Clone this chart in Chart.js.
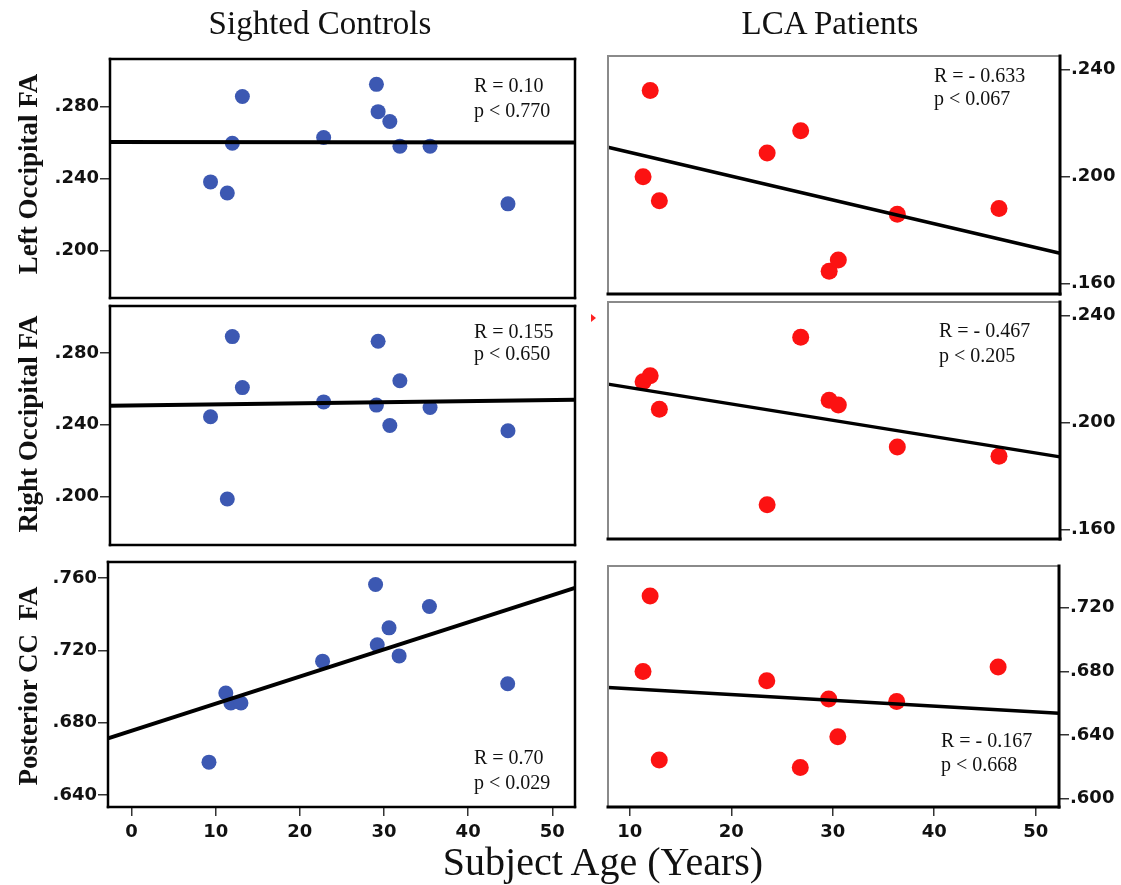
<!DOCTYPE html>
<html>
<head>
<meta charset="utf-8">
<script src="https://cdn.jsdelivr.net/npm/chart.js@4.4.1/dist/chart.umd.min.js"></script>
<style>
html,body{margin:0;padding:0;background:#fff;}
#wrap{position:relative;width:1121px;height:885px;overflow:hidden;background:#fff;}
.panel{position:absolute;}
.txt{position:absolute;font-family:"Liberation Serif","Times New Roman",serif;color:#111;white-space:nowrap;line-height:1;transform:translateY(-50%);}
.ctitle{position:absolute;font-family:"Liberation Serif","Times New Roman",serif;color:#111;white-space:nowrap;line-height:1;transform:translate(-50%,-50%);}
.ytitle{position:absolute;font-family:"Liberation Serif","Times New Roman",serif;font-weight:bold;font-size:27px;color:#111;white-space:nowrap;line-height:1;transform:translate(-50%,-50%) rotate(-90deg);}
.tri{position:absolute;width:0;height:0;border-top:4px solid transparent;border-bottom:4px solid transparent;border-left:5px solid #f22;}
</style>
</head>
<body>
<div id="wrap"></div>
<script>
// ---------------- DATA ----------------
const sightedAges      = [9.2, 11.2, 11.8, 13.0, 22.7, 29.0, 29.2, 30.6, 31.8, 35.4, 44.7];
const sightedLeftOcc   = [0.2381, 0.2319, 0.2596, 0.2856, 0.2628, 0.2924, 0.2772, 0.2717, 0.2580, 0.2580, 0.2259];
const sightedRightOcc  = [0.2445, 0.1985, 0.2893, 0.2608, 0.2528, 0.2510, 0.2867, 0.2396, 0.2646, 0.2497, 0.2367];
const sightedPostCC    = [0.6582, 0.6964, 0.6909, 0.6909, 0.7140, 0.7564, 0.7231, 0.7324, 0.7169, 0.7442, 0.7015];

const lcaAges          = [11.3, 12.0, 12.9, 23.5, 26.8, 29.6, 30.5, 36.3, 46.3];
const lcaLeftOcc       = [0.1999, 0.2321, 0.1909, 0.2088, 0.2171, 0.1646, 0.1688, 0.1859, 0.1880];
const lcaRightOcc      = [0.2152, 0.2174, 0.2049, 0.1692, 0.2318, 0.2083, 0.2065, 0.1908, 0.1873];
const lcaPostCC        = [0.6800, 0.7274, 0.6242, 0.6741, 0.6196, 0.6627, 0.6389, 0.6610, 0.6827];

// regression line end points (x at axis limits)
const sightedFitX      = [-2.8, 52.7];
const sightedLeftFit   = [0.2603, 0.2600];
const sightedRightFit  = [0.2506, 0.2540];
const sightedPostFit   = [0.6713, 0.7545];
const lcaFitX          = [7.85, 52.3];
const lcaLeftFit       = [0.2109, 0.1713];
const lcaRightFit      = [0.2143, 0.1871];
const lcaPostFit       = [0.6699, 0.6537];

// tick labels
const sightedAgeTicks  = [0, 10, 20, 30, 40, 50];
const lcaAgeTicks      = [10, 20, 30, 40, 50];
const sightedOccTicks  = [0.200, 0.240, 0.280];
const sightedCCTicks   = [0.640, 0.680, 0.720, 0.760];
const lcaOccTicks      = [0.160, 0.200, 0.240];
const lcaCCTicks       = [0.600, 0.640, 0.680, 0.720];

// statistics text
const statR = ["R = 0.10", "R = - 0.633", "R = 0.155", "R = - 0.467", "R = 0.70", "R = - 0.167"];
const statP = ["p < 0.770", "p < 0.067", "p < 0.650", "p < 0.205", "p < 0.029", "p < 0.668"];

const columnTitles = ["Sighted Controls", "LCA Patients"];
const rowTitles = ["Left Occipital FA", "Right Occipital FA", "Posterior CC\u00a0 FA"];
const xAxisTitle = "Subject Age (Years)";

// ---------------- LAYOUT ----------------
const W = 1121;
const PAD = 20, XH = 45;
const BLUE = "rgb(60,88,178)";
const RED = "rgb(252,18,18)";

const boxPlugin = {
  id: 'box',
  afterDatasetsDraw(chart, args, o) {
    const {ctx, chartArea: a} = chart;
    ctx.save();
    ctx.lineCap = 'square';
    const seg = (x1, y1, x2, y2, c, w) => {
      ctx.strokeStyle = c; ctx.lineWidth = w;
      ctx.beginPath(); ctx.moveTo(x1, y1); ctx.lineTo(x2, y2); ctx.stroke();
    };
    seg(a.left, a.top, a.right, a.top, o.top[0], o.top[1]);
    seg(a.left, a.top, a.left, a.bottom, o.left[0], o.left[1]);
    seg(a.right, a.top, a.right, a.bottom, o.right[0], o.right[1]);
    seg(a.left, a.bottom, a.right, a.bottom, o.bottom[0], o.bottom[1]);
    ctx.restore();
  }
};

const fmt = v => v.toFixed(3).replace(/^0/, '');
const tickFont = {family: "'DejaVu Sans', sans-serif", weight: 'bold', size: 18};

function makePanel(p) {
  const wrap = document.getElementById('wrap');
  const div = document.createElement('div');
  div.className = 'panel';
  const isLeft = p.side === 'left';
  const divLeft = isLeft ? 0 : p.box.l - PAD;
  const divWidth = isLeft ? p.box.r + PAD : W - divLeft;
  const divTop = p.box.t - PAD;
  const divHeight = (p.box.b - p.box.t) + PAD + (p.showX ? XH : PAD);
  div.style.left = divLeft + 'px';
  div.style.top = divTop + 'px';
  div.style.width = divWidth + 'px';
  div.style.height = divHeight + 'px';
  const cv = document.createElement('canvas');
  div.appendChild(cv);
  wrap.appendChild(div);
  const yW = isLeft ? p.box.l : W - p.box.r;

  new Chart(cv, {
    type: 'scatter',
    data: {
      datasets: [
        {
          type: 'line',
          data: p.fitX.map((x, i) => ({x, y: p.fitY[i]})),
          borderColor: '#000', borderWidth: p.lineW, pointRadius: 0,
          fill: false, tension: 0, order: 0, clip: false
        },
        {
          data: p.ages.map((x, i) => ({x, y: p.vals[i]})),
          backgroundColor: p.color, borderWidth: 0, pointRadius: p.radius,
          pointHoverRadius: p.radius, order: 1
        }
      ]
    },
    options: {
      responsive: true, maintainAspectRatio: false, animation: false,
      devicePixelRatio: 1,
      layout: {padding: {left: isLeft ? 0 : PAD, right: isLeft ? PAD : 0, top: PAD, bottom: p.showX ? 0 : PAD}},
      plugins: {
        legend: {display: false}, tooltip: {enabled: false},
        box: p.border
      },
      scales: {
        x: {
          type: 'linear', min: p.xMin, max: p.xMax, display: p.showX,
          afterFit: s => { if (p.showX) s.height = XH; },
          afterBuildTicks: s => { s.ticks = p.xTicks.map(v => ({value: v})); },
          grid: {drawOnChartArea: false, drawTicks: true, tickLength: 9, color: '#333', lineWidth: 1.5},
          border: {display: false},
          ticks: {font: tickFont, color: '#111', padding: 6, maxRotation: 0, callback: v => String(v)}
        },
        y: {
          type: 'linear', position: p.side, min: p.yMin, max: p.yMax,
          afterFit: s => { s.width = yW; },
          afterBuildTicks: s => { s.ticks = p.yTicks.map(v => ({value: v})); },
          grid: {drawOnChartArea: false, drawTicks: true, tickLength: 10, color: '#333', lineWidth: 1.5},
          border: {display: false},
          ticks: {font: tickFont, color: '#111', padding: 1, callback: v => fmt(v)}
        }
      }
    },
    plugins: [boxPlugin]
  });
}

const blackBorder = {top: ['#000', 2.5], left: ['#000', 2.5], right: ['#000', 2.5], bottom: ['#000', 2.5]};
const rightBorder = {top: ['#8a8a8a', 2], left: ['#8a8a8a', 2], right: ['#000', 3], bottom: ['#000', 3]};

const panels = [
  {side: 'left', box: {l: 110, t: 59, r: 575, b: 298}, showX: false, xMin: -2.8, xMax: 52.7, xTicks: sightedAgeTicks,
   yMin: 0.1735, yMax: 0.3065, yTicks: sightedOccTicks, ages: sightedAges, vals: sightedLeftOcc,
   fitX: sightedFitX, fitY: sightedLeftFit, color: BLUE, radius: 7.5, lineW: 4, border: blackBorder},
  {side: 'right', box: {l: 608, t: 56, r: 1060, b: 294}, showX: false, xMin: 7.85, xMax: 52.3, xTicks: lcaAgeTicks,
   yMin: 0.1561, yMax: 0.2450, yTicks: lcaOccTicks, ages: lcaAges, vals: lcaLeftOcc,
   fitX: lcaFitX, fitY: lcaLeftFit, color: RED, radius: 8.5, lineW: 3.5, border: rightBorder},
  {side: 'left', box: {l: 110, t: 306, r: 575, b: 545}, showX: false, xMin: -2.8, xMax: 52.7, xTicks: sightedAgeTicks,
   yMin: 0.1728, yMax: 0.3064, yTicks: sightedOccTicks, ages: sightedAges, vals: sightedRightOcc,
   fitX: sightedFitX, fitY: sightedRightFit, color: BLUE, radius: 7.5, lineW: 4, border: blackBorder},
  {side: 'right', box: {l: 608, t: 302, r: 1060, b: 539}, showX: false, xMin: 7.85, xMax: 52.3, xTicks: lcaAgeTicks,
   yMin: 0.1564, yMax: 0.2450, yTicks: lcaOccTicks, ages: lcaAges, vals: lcaRightOcc,
   fitX: lcaFitX, fitY: lcaRightFit, color: RED, radius: 8.5, lineW: 3.5, border: rightBorder},
  {side: 'left', box: {l: 108, t: 562, r: 575, b: 807}, showX: true, xMin: -2.8, xMax: 52.7, xTicks: sightedAgeTicks,
   yMin: 0.6334, yMax: 0.7688, yTicks: sightedCCTicks, ages: sightedAges, vals: sightedPostCC,
   fitX: sightedFitX, fitY: sightedPostFit, color: BLUE, radius: 7.5, lineW: 4, border: blackBorder},
  {side: 'right', box: {l: 608, t: 566, r: 1059, b: 807}, showX: true, xMin: 7.85, xMax: 52.3, xTicks: lcaAgeTicks,
   yMin: 0.5947, yMax: 0.7463, yTicks: lcaCCTicks, ages: lcaAges, vals: lcaPostCC,
   fitX: lcaFitX, fitY: lcaPostFit, color: RED, radius: 8.5, lineW: 3.5, border: rightBorder}
];
panels.forEach(makePanel);

// ---------------- TEXT ----------------
const wrap = document.getElementById('wrap');
function addText(cls, txt, x, y, size) {
  const d = document.createElement('div');
  d.className = cls; d.textContent = txt;
  d.style.left = x + 'px'; d.style.top = y + 'px';
  if (size) d.style.fontSize = size + 'px';
  wrap.appendChild(d);
}
addText('ctitle', columnTitles[0], 320, 23, 33);
addText('ctitle', columnTitles[1], 830, 23, 33);
addText('ctitle', xAxisTitle, 603, 862, 40);
addText('ytitle', rowTitles[0], 28, 174);
addText('ytitle', rowTitles[1], 28, 424);
addText('ytitle', rowTitles[2], 28, 686);

const statPos = [[474, 85, 110], [934, 75, 98], [474, 331, 353], [939, 330, 355], [474, 757, 782], [941, 740, 764]];
statPos.forEach((s, i) => {
  addText('txt', statR[i], s[0], s[1], 20);
  addText('txt', statP[i], s[0], s[2], 20);
});
const tri = document.createElement('div');
tri.className = 'tri'; tri.style.left = '591px'; tri.style.top = '314px';
wrap.appendChild(tri);
</script>
</body>
</html>
